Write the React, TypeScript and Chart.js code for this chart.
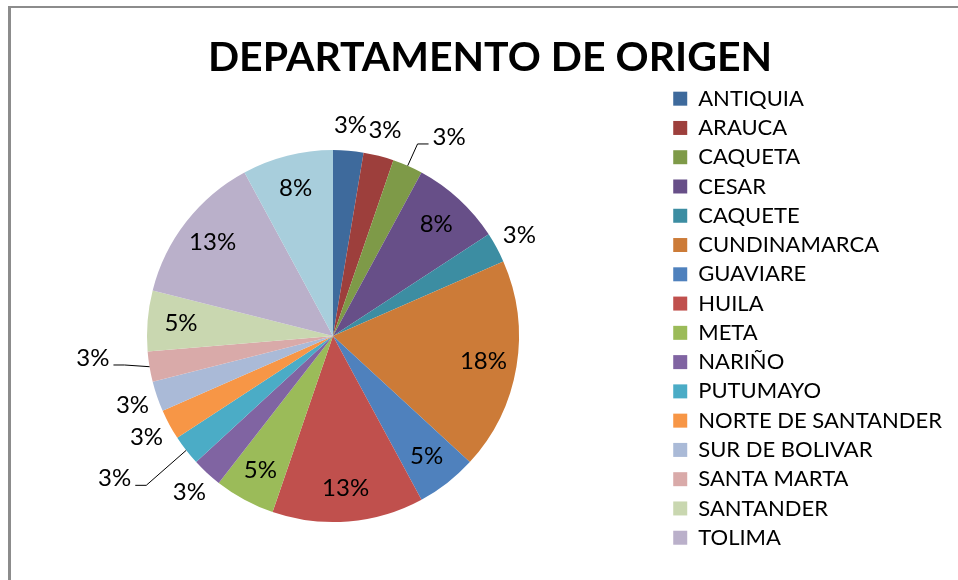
import React, { useEffect, useRef } from "react";
import { Chart, registerables } from "chart.js";

Chart.register(...registerables);

const titleText = "DEPARTAMENTO DE ORIGEN";

const categories = [
  "ANTIQUIA",
  "ARAUCA",
  "CAQUETA",
  "CESAR",
  "CAQUETE",
  "CUNDINAMARCA",
  "GUAVIARE",
  "HUILA",
  "META",
  "NARIÑO",
  "PUTUMAYO",
  "NORTE DE SANTANDER",
  "SUR DE BOLIVAR",
  "SANTA MARTA",
  "SANTANDER",
  "TOLIMA",
  "VALLE",
];

// counts per department (percentages shown are count / total)
const counts = [1, 1, 1, 3, 1, 7, 2, 5, 2, 1, 1, 1, 1, 1, 2, 5, 3];

const sliceColors = [
  "#3E6A9C",
  "#9D3F3C",
  "#7E9A48",
  "#674F88",
  "#3C8DA2",
  "#CC7B38",
  "#4F81BD",
  "#C0504D",
  "#9BBB59",
  "#8064A2",
  "#4BACC6",
  "#F79646",
  "#AABAD7",
  "#D9AAA9",
  "#C9D7B0",
  "#BAB0CA",
  "#A8CEDC",
];

// legend entries that are cut off in the original picture
const legendHidden = ["VALLE"];

const FONT = "Lato, 'Open Sans', sans-serif";

const framePlugin = {
  id: "frame",
  beforeDraw(chart: any) {
    const ctx = chart.ctx;
    ctx.save();
    ctx.fillStyle = "#8c8c8c";
    ctx.fillRect(8, 6, 3, chart.height);
    ctx.fillRect(8, 6, chart.width, 2);
    ctx.restore();
  },
};

// nudges the title horizontally (the original title is not centred on the canvas)
const titleShiftPlugin = {
  id: "titleShift",
  afterLayout(chart: any, _args: any, opts: any) {
    const t = chart.titleBlock;
    if (t) {
      t.left += opts.dx;
      t.right += opts.dx;
    }
  },
};

const pieLabelsPlugin = {
  id: "pieLabels",
  afterDatasetsDraw(chart: any, _args: any, opts: any) {
    const ctx = chart.ctx;
    const meta = chart.getDatasetMeta(0);
    const data = chart.data.datasets[0].data as number[];
    const total = data.reduce((a, b) => a + b, 0);
    ctx.save();
    ctx.font = opts.font;
    ctx.fillStyle = opts.color;
    ctx.strokeStyle = opts.lineColor;
    ctx.lineWidth = 1;
    ctx.textAlign = "center";
    ctx.textBaseline = "middle";
    meta.data.forEach((arc: any, i: number) => {
      const { x, y, startAngle, endAngle, outerRadius } = arc.getProps(
        ["x", "y", "startAngle", "endAngle", "outerRadius"],
        true
      );
      const mid = (startAngle + endAngle) / 2;
      const pct = Math.round((data[i] / total) * 100);
      const outside = data[i] <= opts.outsideMax;
      const d = outside ? outerRadius + opts.outsideGap : outerRadius * opts.insideRatio;
      const shift = opts.shifts[i];
      const lx = x + Math.cos(mid) * d + (shift ? shift[0] : 0);
      const ly = y + Math.sin(mid) * d + (shift ? shift[1] : 0);
      const text = pct + "%";
      ctx.fillText(text, lx, ly);
      if (shift) {
        const w = ctx.measureText(text).width;
        const ex = x + Math.cos(mid) * outerRadius;
        const ey = y + Math.sin(mid) * outerRadius;
        const dir = ex > lx ? 1 : -1;
        const endX = lx + dir * (w / 2 + 4);
        const lineY = ly + 7;
        const elbowX = endX + dir * 11;
        ctx.beginPath();
        ctx.moveTo(ex, ey);
        ctx.lineTo(elbowX, lineY);
        ctx.lineTo(endX, lineY);
        ctx.stroke();
      }
    });
    ctx.restore();
  },
};

export default function App() {
  const canvasRef = useRef<HTMLCanvasElement | null>(null);

  useEffect(() => {
    document.body.style.margin = "0";
    const canvas = canvasRef.current;
    if (!canvas) return;
    const chart = new Chart(canvas, {
      type: "pie",
      data: {
        labels: categories,
        datasets: [
          {
            data: counts,
            backgroundColor: sliceColors,
            borderWidth: 0,
            radius: 186,
          } as any,
        ],
      },
      plugins: [framePlugin, titleShiftPlugin, pieLabelsPlugin],
      options: {
        responsive: false,
        animation: false,
        devicePixelRatio: 1,
        layout: { padding: { left: 0, right: 6, top: 30, bottom: 24 } },
        plugins: {
          title: {
            display: true,
            text: titleText,
            color: "#000",
            font: { family: FONT, size: 41, weight: "bold" },
            padding: { top: 3, bottom: 34 },
          },
          legend: {
            position: "right",
            align: "end",
            labels: {
              color: "#000",
              font: { family: FONT, size: 22 },
              boxWidth: 14,
              boxHeight: 14,
              padding: 7.27,
              filter: (item: any) => !legendHidden.includes(item.text),
            },
          },
          tooltip: { enabled: false },
          titleShift: { dx: 14 },
          pieLabels: {
            font: `24px ${FONT}`,
            color: "#000",
            lineColor: "#000",
            outsideMax: 1,
            outsideGap: 26,
            insideRatio: 0.82,
            shifts: { 2: [31, -5], 10: [-51, 12], 13: [-31, -13] },
          },
        } as any,
      },
    });
    return () => chart.destroy();
  }, []);

  return (
    <div style={{ position: "absolute", left: 0, top: 0, width: 958, height: 580 }}>
      <canvas ref={canvasRef} width={958} height={580} />
    </div>
  );
}
